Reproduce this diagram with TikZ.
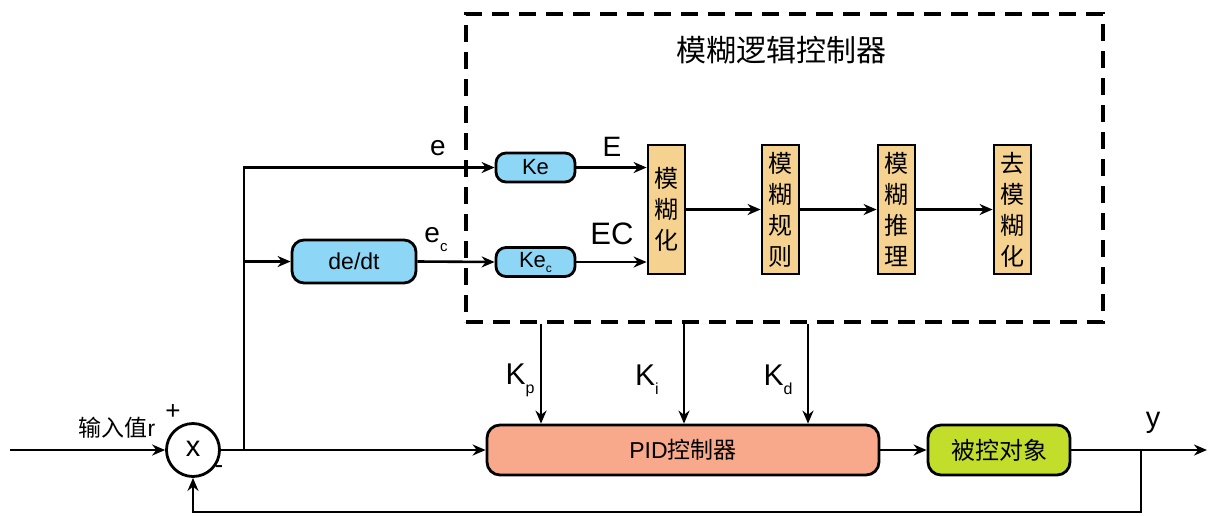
\documentclass[tikz,border=0pt]{standalone}
\usepackage{fontspec}
\setmainfont{Liberation Sans}
\newfontfamily\cjk{Noto Sans CJK SC}
\usetikzlibrary{arrows.meta}
\definecolor{cblue}{HTML}{8DD6F6}
\definecolor{cbeige}{HTML}{F6D291}
\definecolor{csalmon}{HTML}{F8A98B}
\definecolor{cgreen}{HTML}{C3DD2B}
\newcommand{\fs}[1]{\fontsize{#1}{#1}\selectfont}
\begin{document}
\begin{tikzpicture}[x=1pt,y=-1pt,line width=2.6pt,
  arr/.style={-{Stealth[length=13pt,width=11pt]}},
  rbox/.style={draw,line width=2.8pt,inner sep=0pt},
  bluebox/.style={rbox,fill=cblue,rounded corners=10pt,minimum width=79pt,minimum height=29pt,font=\fs{22}},
  fuzzy/.style={rbox,fill=cbeige,minimum width=37pt,minimum height=129pt,align=center,font=\cjk\fontsize{24}{31}\selectfont},
  lbl/.style={inner sep=0pt}]
\useasboundingbox (0,0) rectangle (1211,515);
% dashed fuzzy controller frame
\node[draw,line width=3.2pt,dash pattern=on 17pt off 10pt,minimum width=637pt,minimum height=308pt,inner sep=0pt] (flc) at (784.5,168) {};
\node[lbl,font=\cjk\fs{30}] (title) at (781,50) {模糊逻辑控制器};
% blocks
\node[bluebox] (ke) at (535.5,167.5) {Ke};
\node[bluebox] (kec) at (535.5,262) {Ke\raisebox{-5pt}{\fs{12}c}};
\node[rbox,fill=cblue,rounded corners=12pt,minimum width=124pt,minimum height=43pt,font=\fs{23}] (dedt) at (354,261.5) {de/dt};
\node[fuzzy] (f1) at (666.5,209.5) {模\\糊\\化};
\node[fuzzy] (f2) at (780.5,209.5) {模\\糊\\规\\则};
\node[fuzzy] (f3) at (896.5,209.5) {模\\糊\\推\\理};
\node[fuzzy] (f4) at (1012.5,209.5) {去\\模\\糊\\化};
\node[draw,line width=2.8pt,circle,minimum size=53pt,inner sep=0pt,font=\fs{29}] (sum) at (193,450) {\raisebox{2pt}{x}};
\node[rbox,fill=csalmon,rounded corners=13pt,minimum width=392pt,minimum height=50pt,font=\fs{23}] (pid) at (683,450) {PID{\cjk 控制器}};
\node[rbox,fill=cgreen,rounded corners=13pt,minimum width=142pt,minimum height=50pt,font=\cjk\fs{24}] (plant) at (999,450) {被控对象};
% coordinates
\coordinate (in) at (10,450);
\coordinate (split) at (244,450);
\coordinate (fb) at (1141,450);
\coordinate (fbb) at (1141,512);
\coordinate (out) at (1207,450);
\coordinate (kpx) at (541,0);
\coordinate (kix) at (684,0);
\coordinate (kdx) at (808,0);
% connectors
\draw[arr] (in) -- (sum.west);
\draw[arr] (sum.east) -- (pid.west);
\draw[arr] (split) |- (ke.west);
\draw[arr] (split |- dedt) -- (dedt.west);
\draw[arr] (dedt.east) -- (kec.west);
\draw[arr] (ke.east) -- (ke.east -| f1.west);
\draw[arr] (kec.east) -- (kec.east -| f1.west);
\draw[arr] (f1.east) -- (f2.west);
\draw[arr] (f2.east) -- (f3.west);
\draw[arr] (f3.east) -- (f4.west);
\draw[arr] (flc.south -| kpx) -- (pid.north -| kpx);
\draw[arr] (flc.south -| kix) -- (pid.north -| kix);
\draw[arr] (flc.south -| kdx) -- (pid.north -| kdx);
\draw[arr] (pid.east) -- (plant.west);
\draw[arr] (plant.east) -- (out);
\draw[arr] (fb) -- (fbb) -| (sum.south);
% labels
\node[lbl,font=\cjk\fs{23}] (rlab) at (117,428) {输入值{\rmfamily r}};
\node[lbl,font=\fs{26}] (plus) at (173,412) {+};
\node[lbl,font=\fs{26}] (minus) at (219,470) {-};
\node[lbl,font=\fs{28}] (elab) at (438,148) {e};
\node[lbl,font=\fs{28}] (Elab) at (612,147) {E};
\node[lbl,font=\fs{28}] (eclab) at (436,240) {e\raisebox{-9pt}{\fs{15}c}};
\node[lbl,font=\fs{31}] (EClab) at (612,234) {EC};
\node[lbl,font=\fs{30}] (kplab) at (520,380) {K\raisebox{-9pt}{\fs{16}p}};
\node[lbl,font=\fs{30}] (kilab) at (647,380) {K\raisebox{-9pt}{\fs{16}i}};
\node[lbl,font=\fs{30}] (kdlab) at (778,380) {K\raisebox{-9pt}{\fs{16}d}};
\node[lbl,font=\fs{29}] (ylab) at (1153,423) {y};
\end{tikzpicture}
\end{document}
